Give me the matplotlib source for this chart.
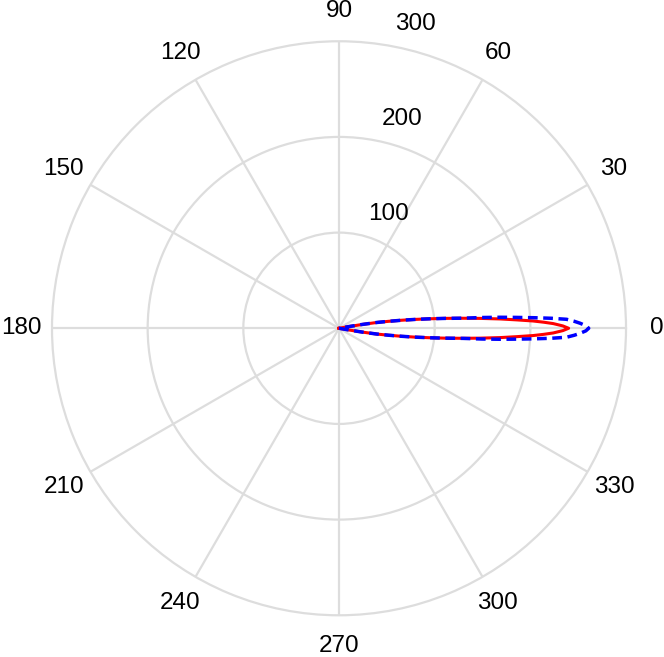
import matplotlib
matplotlib.use("Agg")
import matplotlib.pyplot as plt
import matplotlib.transforms as mtransforms
import numpy as np

plt.rcParams['font.family'] = ['Liberation Sans', 'DejaVu Sans']
plt.rcParams['lines.scale_dashes'] = False

# lobe of series 1 (red, solid): angle in degrees, radius
red_theta = [-10.2, -9.8, -9.3, -8.7, -8.0, -7.3, -6.6, -5.9, -5.3, -4.66, -4.0, -3.3, -2.7, -2.15, -1.7, -1.25, -0.6,
             0.0, 0.6, 1.25, 1.7, 2.15, 2.7, 3.3, 4.0, 4.66, 5.3, 5.9, 6.6, 7.3, 8.0, 8.7, 9.3, 9.8, 10.2]
red_r = [0, 10, 25, 40, 52, 66, 81, 97, 112, 129, 148, 169, 186, 203, 214, 224, 234,
         240, 234, 224, 214, 203, 186, 169, 148, 129, 112, 97, 81, 66, 52, 40, 25, 10, 0]

# lobe of series 2 (blue, dashed)
blue_theta = [-10.2, -9.8, -9.3, -8.7, -8.0, -7.3, -6.6, -5.9, -5.3, -4.66, -4.3, -3.9, -3.5, -3.1, -2.7, -2.26, -1.7, -1.2, -0.6,
              0.0, 0.6, 1.2, 1.7, 2.26, 2.7, 3.1, 3.5, 3.9, 4.3, 4.66, 5.3, 5.9, 6.6, 7.3, 8.0, 8.7, 9.3, 9.8, 10.2]
blue_r = [0, 10, 25, 40, 52, 66, 81, 97, 112, 130, 150, 169, 186, 204, 222, 238, 246, 252, 258,
          261, 258, 252, 246, 238, 222, 204, 186, 169, 150, 130, 112, 97, 81, 66, 52, 40, 25, 10, 0]

r_ticks = [100, 200, 300]
theta_ticks = [0, 30, 60, 90, 120, 150, 180, 210, 240, 270, 300, 330]

grid_col = '#dddddd'
fs = 17.5

fig = plt.figure(figsize=(6.64, 6.57), dpi=100)
ax = fig.add_axes([0.0783, 0.0635, 0.8645, 0.8737], projection='polar')

ax.plot(np.deg2rad(red_theta), red_r, color='#ff0000', lw=2.2, zorder=3)
ax.plot(np.deg2rad(blue_theta), blue_r, color='#0000ff', lw=2.5, dashes=(7, 4), zorder=4)

ax.set_ylim(0, 300)
ax.set_yticks(r_ticks[:-1])
ax.set_yticklabels([])
ax.set_xticks(np.deg2rad(theta_ticks))
ax.set_xticklabels([])
ax.grid(True, color=grid_col, lw=1.6)
ax.spines['polar'].set_color(grid_col)
ax.spines['polar'].set_linewidth(1.6)
ax.set_axisbelow(True)

# angular labels outside the ring
for t in theta_ticks:
    ax.text(np.deg2rad(t), 332, str(t), ha='center', va='center', fontsize=fs, clip_on=False)

# radial labels along a spoke at about 82 degrees
lab_tr = mtransforms.offset_copy(ax.transData, fig=fig, x=37, y=19.6, units='dots')
for v in r_ticks:
    ax.text(np.deg2rad(82.2), v, str(v), ha='center', va='center', fontsize=fs,
            transform=lab_tr, clip_on=False)

fig.savefig('out.png', dpi=100)
